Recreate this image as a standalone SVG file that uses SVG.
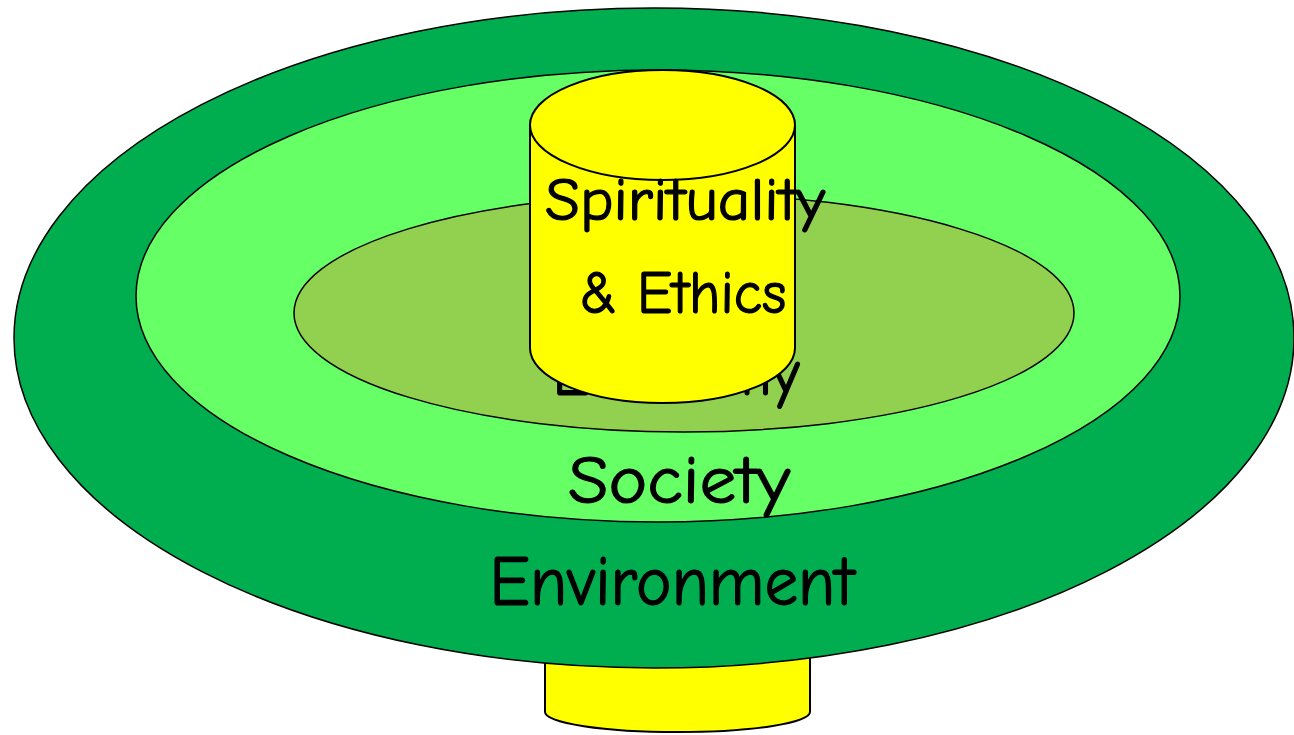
<svg xmlns="http://www.w3.org/2000/svg" width="1294" height="735" viewBox="0 0 1294 735">
<style>
.shape{stroke:#000;stroke-width:1.5}
.yel{fill:#FFFF00;stroke:#000;stroke-width:2}
.lbl{font-family:"Comic Neue","Liberation Sans",sans-serif;fill:#000;stroke:#000;stroke-width:1.2;text-anchor:middle}
</style>
<rect width="1294" height="735" fill="#fff"/>
<g id="base">
<path class="yel" d="M545,640 L545,712 A132.5 20 0 0 0 810,712 L810,640 Z"/>
</g>
<g id="environment">
<ellipse class="shape" cx="654" cy="338" rx="640" ry="330" fill="#00AD4F"/>
</g>
<g id="society">
<ellipse class="shape" cx="658" cy="296" rx="522" ry="226" fill="#66FF66"/>
</g>
<g id="economy">
<ellipse class="shape" cx="684" cy="313" rx="390" ry="119" fill="#92D050"/>
<text class="lbl" x="676" y="395" font-size="66" textLength="247" lengthAdjust="spacingAndGlyphs">Economy</text>
</g>
<g id="spirituality">
<path class="yel" d="M530,125 L530,348 A132.5 55 0 0 0 795,348 L795,125 Z"/>
<ellipse class="yel" cx="662.5" cy="125" rx="132.5" ry="55"/>
<text class="lbl" x="685" y="220" font-size="60" textLength="280" lengthAdjust="spacingAndGlyphs">Spirituality</text>
<text class="lbl" x="683" y="313" font-size="60" textLength="207" lengthAdjust="spacingAndGlyphs">&amp; Ethics</text>
</g>
<g id="labels">
<text class="lbl" x="679" y="503" font-size="68" textLength="222" lengthAdjust="spacingAndGlyphs">Society</text>
<text class="lbl" x="672" y="605" font-size="70" textLength="365" lengthAdjust="spacingAndGlyphs">Environment</text>
</g>
<g id="connectors"/>
</svg>
